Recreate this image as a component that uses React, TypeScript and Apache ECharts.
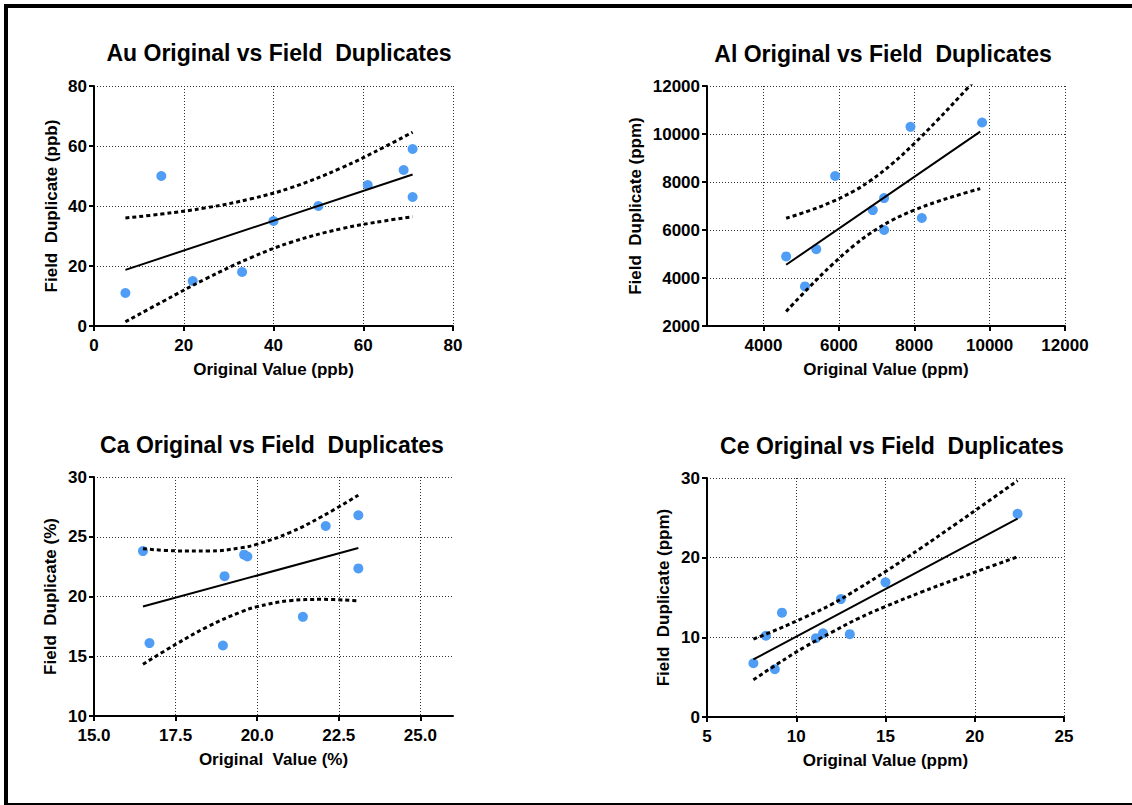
import React, { useEffect, useRef } from "react";
import * as echarts from "echarts";

const FONT = '"Liberation Sans", Arial, Helvetica, sans-serif';

// ---------- Au ----------
const auTitle = "Au Original vs Field  Duplicates";
const auX = [7, 15, 22, 33, 40, 50, 61, 69, 71, 71];
const auY = [11, 50, 15, 18, 35, 40, 47, 52, 59, 43];
const auFitX = [7, 71];
const auFitY = [18.7, 50.5];
const auBandX = [7, 15, 25, 35, 43.9, 55, 65, 71];
const auUpper = [36.0, 37.3, 39.4, 42.4, 46.1, 52.6, 59.9, 64.6];
const auLower = [1.4, 7.9, 15.8, 22.8, 27.9, 32.4, 35.1, 36.4];
const auXTicks = [0, 20, 40, 60, 80];
const auYTicks = [0, 20, 40, 60, 80];

// ---------- Al ----------
const alTitle = "Al Original vs Field  Duplicates";
const alX = [4600, 5100, 5400, 5900, 6900, 7200, 7200, 7900, 8200, 9800];
const alY = [4900, 3650, 5200, 8250, 6830, 7330, 6000, 10300, 6500, 10480];
const alFitX = [4600, 9750];
const alFitY = [4550, 10100];
const alBandX = [4600, 5200, 5800, 6400, 6820, 7400, 8000, 8600, 9200, 9750];
const alUpper = [6490, 6799, 7163, 7627, 8039, 8742, 9604, 10552, 11548, 12486];
const alLower = [2608, 3595, 4525, 5355, 5849, 6398, 6830, 7176, 7474, 7722];
const alXTicks = [4000, 6000, 8000, 10000, 12000];
const alYTicks = [2000, 4000, 6000, 8000, 10000, 12000];

// ---------- Ca ----------
const caTitle = "Ca Original vs Field  Duplicates";
const caX = [16.5, 16.7, 19.0, 18.95, 19.6, 19.7, 21.4, 22.1, 23.1, 23.1];
const caY = [23.8, 16.1, 21.7, 15.9, 23.5, 23.35, 18.3, 25.9, 26.8, 22.35];
const caFitX = [16.5, 23.1];
const caFitY = [19.16, 24.06];
const caBandX = [16.5, 17.5, 18.5, 19.5, 20.0, 21, 22, 23.1];
const caUpper = [24.0, 23.82, 23.8, 24.07, 24.38, 25.35, 26.72, 28.48];
const caLower = [14.33, 15.99, 17.5, 18.71, 19.15, 19.65, 19.76, 19.63];
const caXTicks = [15, 17.5, 20, 22.5, 25];
const caYTicks = [10, 15, 20, 25, 30];

// ---------- Ce ----------
const ceTitle = "Ce Original vs Field  Duplicates";
const ceX = [7.6, 8.3, 8.8, 9.2, 11.1, 11.5, 12.5, 13.0, 15.0, 22.4];
const ceY = [6.75, 10.2, 6.0, 13.1, 9.9, 10.5, 14.8, 10.4, 16.9, 25.5];
const ceFitX = [7.6, 22.4];
const ceFitY = [7.22, 24.9];
const ceBandX = [7.6, 9, 10.5, 12, 13.5, 15, 17, 19, 20.5, 22.4];
const ceUpper = [9.77, 11.05, 12.55, 14.16, 16.15, 18.25, 21.23, 24.32, 26.67, 29.68];
const ceLower = [4.67, 6.74, 8.82, 10.65, 12.39, 13.87, 15.67, 17.35, 18.58, 20.11];
const ceXTicks = [5, 10, 15, 20, 25];
const ceYTicks = [0, 10, 20, 30];

const zip = (xs: number[], ys: number[]) => xs.map((x, i) => [x, ys[i]]);

type Panel = {
  title: string;
  titlePos: [number, number];
  xName: string;
  yName: string;
  grid: { left: number; top: number; width: number; height: number };
  xMin: number;
  xMax: number;
  xTicks: number[];
  yTicks: number[];
  xFmt: (v: number) => string;
  yNameGap: number;
  px: number[];
  py: number[];
  fx: number[];
  fy: number[];
  bx: number[];
  bu: number[];
  bl: number[];
};

const panels: Panel[] = [
  {
    title: auTitle, titlePos: [279, 53],
    xName: "Original Value (ppb)", yName: "Field  Duplicate (ppb)",
    grid: { left: 94, top: 86, width: 359, height: 240 },
    xMin: 0, xMax: 80, xTicks: auXTicks, yTicks: auYTicks,
    xFmt: (v) => String(v), yNameGap: 34,
    px: auX, py: auY, fx: auFitX, fy: auFitY, bx: auBandX, bu: auUpper, bl: auLower,
  },
  {
    title: alTitle, titlePos: [883, 54],
    xName: "Original Value (ppm)", yName: "Field  Duplicate (ppm)",
    grid: { left: 707, top: 86, width: 358, height: 240 },
    xMin: 2500, xMax: 12000, xTicks: alXTicks, yTicks: alYTicks,
    xFmt: (v) => String(v), yNameGap: 63,
    px: alX, py: alY, fx: alFitX, fy: alFitY, bx: alBandX, bu: alUpper, bl: alLower,
  },
  {
    title: caTitle, titlePos: [272, 445],
    xName: "Original  Value (%)", yName: "Field  Duplicate (%)",
    grid: { left: 94, top: 477, width: 359, height: 239 },
    xMin: 15, xMax: 26, xTicks: caXTicks, yTicks: caYTicks,
    xFmt: (v) => v.toFixed(1), yNameGap: 35,
    px: caX, py: caY, fx: caFitX, fy: caFitY, bx: caBandX, bu: caUpper, bl: caLower,
  },
  {
    title: ceTitle, titlePos: [892, 446],
    xName: "Original Value (ppm)", yName: "Field  Duplicate (ppm)",
    grid: { left: 707, top: 478, width: 357, height: 239 },
    xMin: 5, xMax: 25, xTicks: ceXTicks, yTicks: ceYTicks,
    xFmt: (v) => String(v), yNameGap: 35,
    px: ceX, py: ceY, fx: ceFitX, fy: ceFitY, bx: ceBandX, bu: ceUpper, bl: ceLower,
  },
];

const textBold = { fontFamily: FONT, fontWeight: "bold" as const, color: "#000" };
const gridLine = { show: true, lineStyle: { color: "#333", type: [1, 2], width: 1 } };

export default function App() {
  const ref = useRef<HTMLDivElement>(null);
  useEffect(() => {
    if (!ref.current) return;
    const chart = echarts.init(ref.current, undefined, { renderer: "svg" });

    const xAxis = panels.map((p, i) => ({
      type: "value",
      gridIndex: i,
      min: p.xMin,
      max: p.xMax,
      name: p.xName,
      nameLocation: "middle",
      nameGap: 35,
      nameTextStyle: { ...textBold, fontSize: 17 },
      axisLine: { show: true, onZero: false, lineStyle: { color: "#000", width: 2 } },
      axisTick: { show: true, length: 5, customValues: p.xTicks, lineStyle: { color: "#000", width: 2 } },
      axisLabel: { ...textBold, fontSize: 17, margin: 11, customValues: p.xTicks, formatter: (v: number) => p.xFmt(v) },
      splitLine: gridLine,
    }));
    const yAxis = panels.map((p, i) => ({
      type: "value",
      gridIndex: i,
      min: p.yTicks[0],
      max: p.yTicks[p.yTicks.length - 1],
      interval: p.yTicks[1] - p.yTicks[0],
      name: p.yName,
      nameLocation: "middle",
      nameGap: p.yNameGap,
      nameTextStyle: { ...textBold, fontSize: 17 },
      axisLine: { show: true, onZero: false, lineStyle: { color: "#000", width: 2 } },
      axisTick: { show: true, length: 5, lineStyle: { color: "#000", width: 2 } },
      axisLabel: { ...textBold, fontSize: 17, margin: 7, formatter: (v: number) => String(v) },
      splitLine: gridLine,
    }));
    const series: any[] = [];
    panels.forEach((p, i) => {
      series.push({
        type: "scatter", xAxisIndex: i, yAxisIndex: i, data: zip(p.px, p.py),
        symbolSize: 10, itemStyle: { color: "#4F9DF5", opacity: 1 }, z: 2, silent: true,
      });
      series.push({
        type: "line", xAxisIndex: i, yAxisIndex: i, data: zip(p.fx, p.fy),
        symbol: "none", lineStyle: { color: "#000", width: 2 }, z: 3, silent: true,
      });
      [p.bu, p.bl].forEach((b) => {
        series.push({
          type: "line", xAxisIndex: i, yAxisIndex: i, data: zip(p.bx, b),
          smooth: 0.4, symbol: "none", clip: true,
          lineStyle: { color: "#000", width: 3, type: [4, 3] }, z: 3, silent: true,
        });
      });
    });

    const graphics: any[] = [
      { type: "rect", shape: { x: 4, y: 4, width: 4, height: 801 }, style: { fill: "#000" } },
      { type: "rect", shape: { x: 4, y: 4, width: 1128, height: 4 }, style: { fill: "#000" } },
      { type: "rect", shape: { x: 4, y: 803, width: 1128, height: 2 }, style: { fill: "#000" } },
      ...panels.map((p) => ({
        type: "text",
        x: p.titlePos[0],
        y: p.titlePos[1],
        style: {
          text: p.title,
          font: `bold 23px ${FONT}`,
          fill: "#000",
          align: "center",
          verticalAlign: "middle",
          textAlign: "center",
          textVerticalAlign: "middle",
        },
      })),
    ];

    chart.setOption({
      animation: false,
      backgroundColor: "#fff",
      grid: panels.map((p) => ({ ...p.grid, containLabel: false })),
      xAxis,
      yAxis,
      series,
      graphic: graphics,
    });
    return () => chart.dispose();
  }, []);
  return (
    <div
      ref={ref}
      style={{ position: "fixed", left: 0, top: 0, width: 1132, height: 805 }}
    />
  );
}
